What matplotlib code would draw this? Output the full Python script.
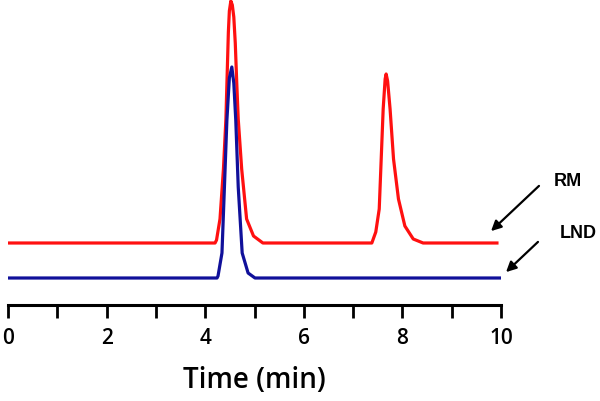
import matplotlib
matplotlib.use("Agg")
import matplotlib.pyplot as plt
import numpy as np

# Data (time in min, signal in arbitrary units above baseline)
rm_time = [0.0, 4.20, 4.23, 4.30, 4.37, 4.42, 4.47, 4.49, 4.52, 4.55, 4.58, 4.61, 4.64, 4.67, 4.74, 4.84, 4.98, 5.17,
           7.38, 7.46, 7.53, 7.57, 7.61, 7.65, 7.67, 7.70, 7.75, 7.82, 7.92, 8.05, 8.22, 8.42, 9.95]
rm_signal = [0, 0, 3, 24, 74, 124, 211, 232, 242, 238, 226, 200, 160, 124, 74, 24, 7, 0,
             0, 11, 34, 84, 134, 164, 169, 162, 134, 84, 44, 17, 4, 0, 0]
lnd_time = [0.0, 4.24, 4.26, 4.34, 4.39, 4.44, 4.49, 4.54, 4.58, 4.62, 4.67, 4.75, 4.87, 5.01, 10.0]
lnd_signal = [0, 0, 2, 25, 91, 158, 200, 211, 195, 158, 91, 25, 5, 0, 0]
rm_offset = 62
lnd_offset = 27

xticks_major = [0, 2, 4, 6, 8, 10]
xticks_minor = [1, 3, 5, 7, 9]

fig = plt.figure(figsize=(6.0, 4.02), dpi=100)
ax = fig.add_axes([8/600, 96/402, 493/600, 306/402])

ax.plot(rm_time, np.array(rm_signal) + rm_offset, color="#ff1010", lw=2.3,
        solid_joinstyle="round", solid_capstyle="butt")
ax.plot(lnd_time, np.array(lnd_signal) + lnd_offset, color="#10109a", lw=2.3,
        solid_joinstyle="round", solid_capstyle="butt")

ax.set_xlim(0, 10)
ax.set_ylim(0, 306)
for s in ["top", "right", "left"]:
    ax.spines[s].set_visible(False)
ax.spines["bottom"].set_linewidth(2.2)
ax.set_yticks([])
ax.set_xticks(xticks_major)
ax.set_xticks(xticks_minor, minor=True)
ax.set_xticklabels([str(v) for v in xticks_major], fontsize=15, fontweight="semibold", family="Open Sans")
ax.tick_params(axis="x", which="major", length=9, width=2, direction="out", pad=7)
ax.tick_params(axis="x", which="minor", length=9, width=2, direction="out")
ax.set_xlabel("Time (min)", fontsize=20, fontweight="semibold", family="Open Sans", labelpad=12)

# Arrows and labels in figure pixel coords
def px(x, y):
    return (x / 600, 1 - y / 402)

ax.annotate("", xy=px(489, 234), xytext=px(541, 185), xycoords="figure fraction",
            textcoords="figure fraction",
            arrowprops=dict(arrowstyle="-|>", color="black", lw=1.6, mutation_scale=15))
ax.annotate("", xy=px(504, 275), xytext=px(540, 241), xycoords="figure fraction",
            textcoords="figure fraction",
            arrowprops=dict(arrowstyle="-|>", color="black", lw=1.6, mutation_scale=15))
fig.text(*px(554, 182), "RM", fontsize=13, fontweight="bold", family="Liberation Sans", va="center", ha="left")
fig.text(*px(560, 234), "LND", fontsize=13, fontweight="bold", family="Liberation Sans", va="center", ha="left")

fig.savefig("out.png", dpi=100)
